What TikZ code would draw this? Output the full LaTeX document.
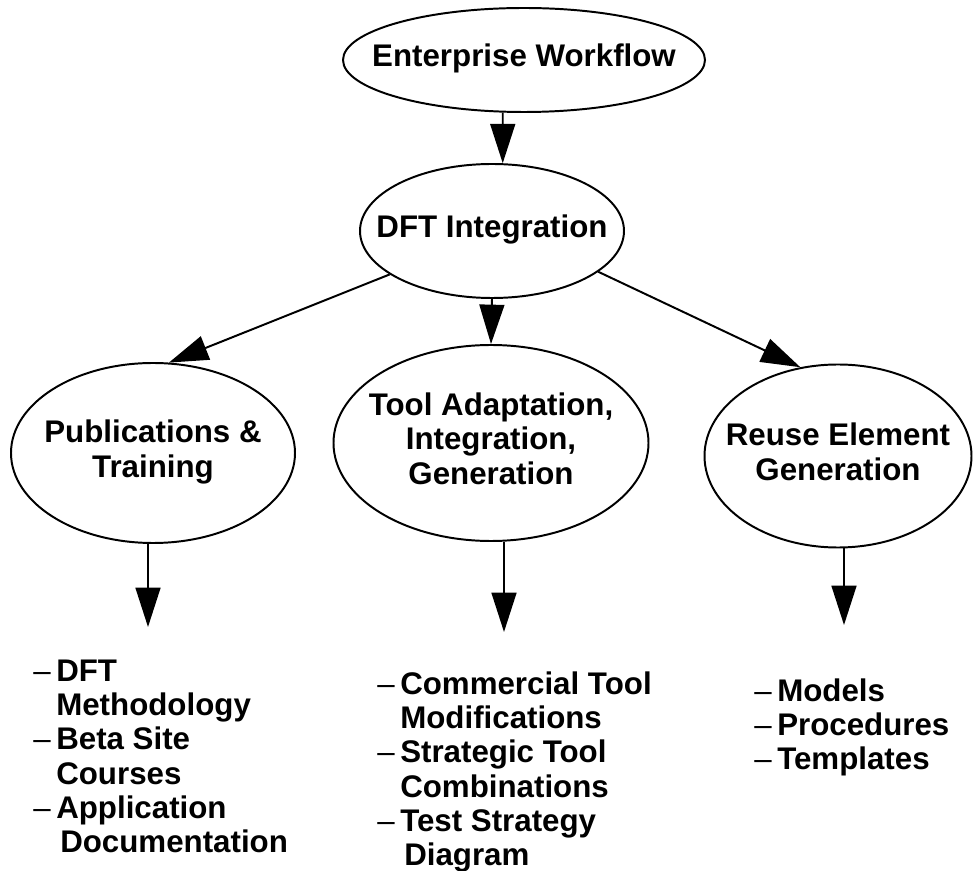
\documentclass[tikz,border=0pt]{standalone}
\usepackage{fontspec}
\setmainfont{Liberation Sans}
\usetikzlibrary{shapes.geometric,arrows.meta}

\newcommand{\ctr}[1]{\makebox[0pt]{\begin{tabular}{@{}c@{}}#1\end{tabular}}}
\newcommand{\itemdash}{\makebox[5.75mm][l]{\mdseries\textendash}}
\newcommand{\contind}{\hspace*{5.75mm}}

\begin{document}
\begin{tikzpicture}[
		font=\fontsize{22.25}{24.45}\selectfont\bfseries,
		bubble/.style={ellipse, draw, line width=1.4pt, inner sep=0pt},
		arr/.style={-{Triangle[width=17.7pt,length=28pt]}, line width=1.4pt},
		items/.style={anchor=base west, inner sep=0pt}
	]
	\useasboundingbox (0mm,0mm) rectangle (243.25mm,-217.75mm);
	
	% ellipses
	\node[bubble, minimum width=90.5mm, minimum height=26mm] (ent) at (131mm,-15mm) {\ctr{Enterprise Workflow}};
	\node[bubble, minimum width=66mm, minimum height=33.5mm] (dft) at (123mm,-57.75mm) {\ctr{DFT Integration}};
	\node[bubble, minimum width=71mm, minimum height=45mm] (pub) at (38.25mm,-113.25mm) {\ctr{Publications \&\\Training}};
	\node[bubble, minimum width=78.75mm, minimum height=49mm] (tool) at (122.75mm,-110.75mm) {\ctr{Tool Adaptation,\\Integration,\\Generation}};
	\node[bubble, minimum width=66.75mm, minimum height=45.75mm] (reuse) at (209.5mm,-114mm) {\ctr{Reuse Element\\Generation}};
	
	% arrow ends
	\coordinate (pubend) at (37mm,-156.75mm);
	\coordinate (toolend) at (126mm,-158mm);
	\coordinate (reuseend) at (211mm,-156.25mm);
	
	% arrows
	\draw[arr] (ent.248) -- (dft.81);
	\draw[arr] (dft.south) -- (tool.north);
	\draw[arr] (dft.203) -- (pub.80);
	\draw[arr] (dft.339) -- (reuse.113);
	\draw[arr] (pubend |- pub.south) -- (pubend);
	\draw[arr] (toolend |- tool.south) -- (toolend);
	\draw[arr] (reuseend |- reuse.south) -- (reuseend);
	
	% lists
	\node[items] (publist) at (8.25mm,-170.25mm) {\begin{tabular}[t]{@{}l@{}}
			\itemdash DFT\\
			\contind Methodology\\
			\itemdash Beta Site\\
			\contind Courses\\
			\itemdash Application\\
			\contind\hspace*{1mm}Documentation
		\end{tabular}};
	\node[items] (toollist) at (94.25mm,-173.5mm) {\begin{tabular}[t]{@{}l@{}}
			\itemdash Commercial Tool\\
			\contind Modifications\\
			\itemdash Strategic Tool\\
			\contind Combinations\\
			\itemdash Test Strategy\\
			\contind\hspace*{1mm}Diagram
		\end{tabular}};
	\node[items] (reuselist) at (188.5mm,-175.25mm) {\begin{tabular}[t]{@{}l@{}}
			\itemdash Models\\
			\itemdash Procedures\\
			\itemdash Templates
		\end{tabular}};
	
\end{tikzpicture}
\end{document}
